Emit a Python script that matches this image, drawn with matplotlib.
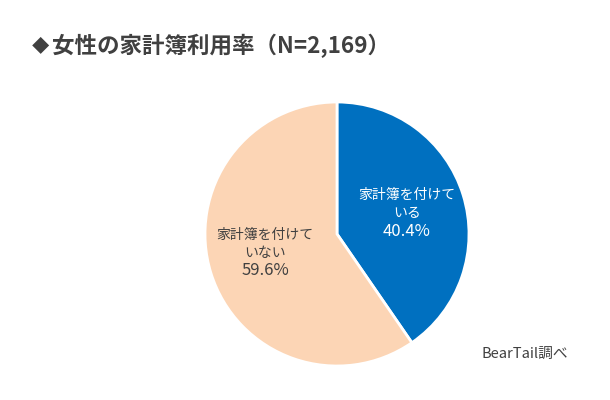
import matplotlib
matplotlib.use('Agg')
import matplotlib.pyplot as plt

plt.rcParams['font.family'] = ['Noto Sans CJK JP', 'DejaVu Sans']

# 女性の家計簿利用率
labels = ['家計簿を付けて\nいる', '家計簿を付けて\nいない']
values = [40.4, 59.6]
pct_labels = ['40.4%', '59.6%']
colors = ['#0070C0', '#FCD5B5']
text_colors = ['#FFFFFF', '#404040']
title = '女性の家計簿利用率（N=2,169）'
source = 'BearTail調べ'

fig = plt.figure(figsize=(6.1, 4.0), dpi=100)

# 円の位置は元画像に合わせる
ax = fig.add_axes([205 / 610, 1 - 367 / 400, 264 / 610, 266 / 400])
wedges, _ = ax.pie(values, colors=colors, startangle=90, counterclock=False,
                   radius=1.0, wedgeprops={'edgecolor': 'white', 'linewidth': 2})
ax.set_xlim(-1.0, 1.0)
ax.set_ylim(-1.0, 1.0)

ax.text(0.53, 0.227, labels[0], color=text_colors[0], fontsize=10, ha='center', va='center', linespacing=1.3)
ax.text(0.53, 0.02, pct_labels[0], color=text_colors[0], fontsize=12, ha='center', va='center')
ax.text(-0.545, -0.076, labels[1], color=text_colors[1], fontsize=10, ha='center', va='center', linespacing=1.3)
ax.text(-0.545, -0.28, pct_labels[1], color=text_colors[1], fontsize=12, ha='center', va='center')

fig.text(32 / 610, 1 - 46 / 400, '◆', color='#404040', fontsize=12.5, ha='left', va='center')
fig.text(52 / 610, 1 - 46 / 400, title, color='#404040', fontsize=16.2, fontweight='bold', ha='left', va='center')
fig.text(525 / 610, 1 - 354 / 400, source, color='#404040', fontsize=10.6, ha='center', va='center')

fig.savefig('out.png', dpi=100)
